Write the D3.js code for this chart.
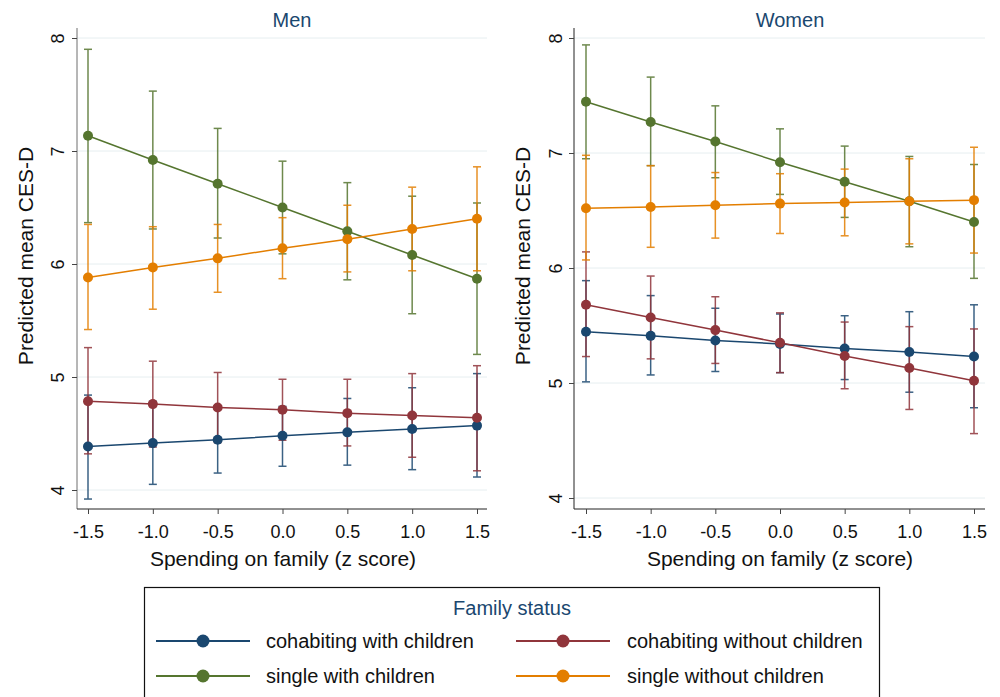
<!DOCTYPE html>
<html><head><meta charset="utf-8">
<script src="https://cdn.jsdelivr.net/npm/d3@7"></script>
<style>
html,body{margin:0;padding:0;background:#fff;}
svg{display:block;font-family:"Liberation Sans",Arial,Helvetica,sans-serif;}
</style></head>
<body>
<svg id="chart" width="1000" height="697"></svg>
<script>
const xValues = [-1.5, -1.0, -0.5, 0.0, 0.5, 1.0, 1.5];
const xTickLabels = ["-1.5", "-1.0", "-0.5", "0.0", "0.5", "1.0", "1.5"];
const yTicks = [4, 5, 6, 7, 8];
const panels = ["Men", "Women"];
const seriesNames = ["cohabiting with children", "cohabiting without children", "single with children", "single without children"];
const seriesColors = ["#1a476f", "#90353b", "#55752f", "#e37e00"];

// Men: point, lower, upper
const menCohabKids     = [4.385, 4.415, 4.445, 4.48, 4.51, 4.54, 4.57];
const menCohabKidsLo   = [3.92, 4.05, 4.15, 4.21, 4.22, 4.18, 4.115];
const menCohabKidsHi   = [4.84, 4.785, 4.74, 4.74, 4.81, 4.905, 5.03];
const menCohabNoKids   = [4.785, 4.76, 4.73, 4.71, 4.68, 4.66, 4.64];
const menCohabNoKidsLo = [4.32, 4.38, 4.42, 4.44, 4.39, 4.29, 4.17];
const menCohabNoKidsHi = [5.26, 5.14, 5.04, 4.98, 4.98, 5.03, 5.10];
const menSingleKids     = [7.135, 6.92, 6.71, 6.50, 6.29, 6.08, 5.87];
const menSingleKidsLo   = [6.366, 6.31, 6.23, 6.09, 5.86, 5.56, 5.20];
const menSingleKidsHi   = [7.90, 7.53, 7.20, 6.91, 6.72, 6.60, 6.54];
const menSingleNoKids   = [5.88, 5.97, 6.05, 6.14, 6.22, 6.31, 6.40];
const menSingleNoKidsLo = [5.42, 5.60, 5.75, 5.87, 5.93, 5.94, 5.94];
const menSingleNoKidsHi = [6.35, 6.33, 6.35, 6.41, 6.52, 6.68, 6.86];

// Women: point, lower, upper
const womenCohabKids     = [5.446, 5.41, 5.37, 5.34, 5.30, 5.27, 5.23];
const womenCohabKidsLo   = [5.01, 5.07, 5.10, 5.09, 5.03, 4.92, 4.785];
const womenCohabKidsHi   = [5.89, 5.76, 5.65, 5.60, 5.585, 5.62, 5.68];
const womenCohabNoKids   = [5.68, 5.57, 5.46, 5.35, 5.235, 5.13, 5.02];
const womenCohabNoKidsLo = [5.23, 5.21, 5.17, 5.09, 4.95, 4.77, 4.56];
const womenCohabNoKidsHi = [6.14, 5.93, 5.75, 5.61, 5.53, 5.49, 5.47];
const womenSingleKids     = [7.446, 7.27, 7.10, 6.92, 6.75, 6.58, 6.40];
const womenSingleKidsLo   = [6.95, 6.89, 6.785, 6.64, 6.44, 6.185, 5.91];
const womenSingleKidsHi   = [7.94, 7.66, 7.41, 7.21, 7.06, 6.97, 6.90];
const womenSingleNoKids   = [6.52, 6.53, 6.545, 6.56, 6.57, 6.58, 6.59];
const womenSingleNoKidsLo = [6.07, 6.18, 6.26, 6.30, 6.28, 6.21, 6.13];
const womenSingleNoKidsHi = [6.98, 6.89, 6.83, 6.82, 6.86, 6.95, 7.05];

const panelData = [
  [[menCohabKids, menCohabKidsLo, menCohabKidsHi],
   [menCohabNoKids, menCohabNoKidsLo, menCohabNoKidsHi],
   [menSingleKids, menSingleKidsLo, menSingleKidsHi],
   [menSingleNoKids, menSingleNoKidsLo, menSingleNoKidsHi]],
  [[womenCohabKids, womenCohabKidsLo, womenCohabKidsHi],
   [womenCohabNoKids, womenCohabNoKidsLo, womenCohabNoKidsHi],
   [womenSingleKids, womenSingleKidsLo, womenSingleKidsHi],
   [womenSingleNoKids, womenSingleNoKidsLo, womenSingleNoKidsHi]]
];

const svg = d3.select("#chart");
const layouts = [
  {left: 77, right: 487, top: 28, bottom: 509, xr: [88, 477], yr: [490, 38], titleX: 292, ylabX: 25, yTickOff: 19, xlabX: 283},
  {left: 574, right: 985, top: 28, bottom: 509, xr: [586, 974], yr: [498, 38], titleX: 790, ylabX: 522, yTickOff: 18, xlabX: 780}
];

panels.forEach((name, pi) => {
  const L = layouts[pi];
  const x = d3.scaleLinear().domain([-1.5, 1.5]).range(L.xr);
  const y = d3.scaleLinear().domain([4, 8]).range(L.yr);
  const g = svg.append("g");

  // gridlines
  g.selectAll("line.grid").data(yTicks).join("line")
    .attr("x1", L.left).attr("x2", L.right)
    .attr("y1", d => y(d)).attr("y2", d => y(d))
    .attr("stroke", "#e6eef0").attr("stroke-width", 1);

  // y axis
  const yAxis = d3.axisLeft(y).tickValues(yTicks).tickSize(5).tickFormat(d3.format("d"));
  const ya = g.append("g").attr("transform", `translate(${L.left},0)`).call(yAxis);
  ya.select(".domain").attr("d", `M0,${L.top}V${L.bottom}`).attr("stroke", pi === 0 ? "#6e6e6e" : "#222");
  ya.selectAll(".tick line").attr("stroke", "#444");
  ya.selectAll(".tick text")
    .attr("font-size", 18).attr("fill", "#111")
    .attr("font-family", "Liberation Sans, Arial, sans-serif")
    .attr("x", null).attr("dy", null)
    .attr("text-anchor", "middle")
    .attr("transform", `translate(${-L.yTickOff},0) rotate(-90)`)
    .attr("dominant-baseline", "central");

  // x axis
  const xAxis = d3.axisBottom(x).tickValues(xValues).tickSize(5).tickPadding(11)
    .tickFormat((d, i) => xTickLabels[i]);
  const xa = g.append("g").attr("transform", `translate(0,${L.bottom})`).call(xAxis);
  xa.select(".domain").attr("d", `M${L.left},0H${L.right}`).attr("stroke", "#222");
  xa.selectAll(".tick line").attr("stroke", "#444");
  xa.selectAll(".tick text").attr("font-size", 18).attr("fill", "#111")
    .attr("font-family", "Liberation Sans, Arial, sans-serif");

  // titles
  g.append("text").attr("x", L.titleX).attr("y", 27).attr("text-anchor", "middle")
    .attr("font-size", 20).attr("fill", "#1a476f").text(name);
  g.append("text").attr("x", L.xlabX).attr("y", 566).attr("text-anchor", "middle")
    .attr("font-size", 21).attr("fill", "#111").text("Spending on family (z score)");
  g.append("text").attr("transform", `translate(${L.ylabX},256) rotate(-90)`)
    .attr("text-anchor", "middle").attr("dominant-baseline", "central")
    .attr("font-size", 21).attr("fill", "#111").text("Predicted mean CES-D");

  // confidence intervals
  panelData[pi].forEach((s, si) => {
    const [pt, lo, hi] = s;
    const col = seriesColors[si];
    const ci = g.append("g").attr("stroke", col).attr("stroke-width", 1.5).attr("opacity", 0.85);
    xValues.forEach((xv, i) => {
      ci.append("line").attr("x1", x(xv)).attr("x2", x(xv)).attr("y1", y(lo[i])).attr("y2", y(hi[i]));
      ci.append("line").attr("x1", x(xv) - 4).attr("x2", x(xv) + 4).attr("y1", y(lo[i])).attr("y2", y(lo[i]));
      ci.append("line").attr("x1", x(xv) - 4).attr("x2", x(xv) + 4).attr("y1", y(hi[i])).attr("y2", y(hi[i]));
    });
  });
  // lines and markers
  panelData[pi].forEach((s, si) => {
    const [pt] = s;
    const col = seriesColors[si];
    const line = d3.line().x((d, i) => x(xValues[i])).y(d => y(d));
    g.append("path").datum(pt).attr("d", line).attr("fill", "none")
      .attr("stroke", col).attr("stroke-width", 1.5);
    g.selectAll(null).data(pt).join("circle")
      .attr("cx", (d, i) => x(xValues[i])).attr("cy", d => y(d)).attr("r", 5)
      .attr("fill", col);
  });
});

// legend
const lg = svg.append("g");
lg.append("rect").attr("x", 144.5).attr("y", 587.5).attr("width", 735).attr("height", 120)
  .attr("fill", "#fff").attr("stroke", "#111").attr("stroke-width", 1.2);
lg.append("text").attr("x", 512).attr("y", 615).attr("text-anchor", "middle")
  .attr("font-size", 20).attr("fill", "#1a476f").text("Family status");
const legendPos = [
  {lx: 156, tx: 266, y: 641}, {lx: 516, tx: 627, y: 641},
  {lx: 156, tx: 266, y: 676}, {lx: 516, tx: 627, y: 676}
];
seriesNames.forEach((nm, i) => {
  const p = legendPos[i];
  lg.append("line").attr("x1", p.lx).attr("x2", p.lx + 94).attr("y1", p.y).attr("y2", p.y)
    .attr("stroke", seriesColors[i]).attr("stroke-width", 1.8);
  lg.append("circle").attr("cx", p.lx + 47).attr("cy", p.y).attr("r", 6.5).attr("fill", seriesColors[i]);
  lg.append("text").attr("x", p.tx).attr("y", p.y).attr("dominant-baseline", "central")
    .attr("font-size", 20).attr("fill", "#111").text(nm);
});
</script>
</body></html>
